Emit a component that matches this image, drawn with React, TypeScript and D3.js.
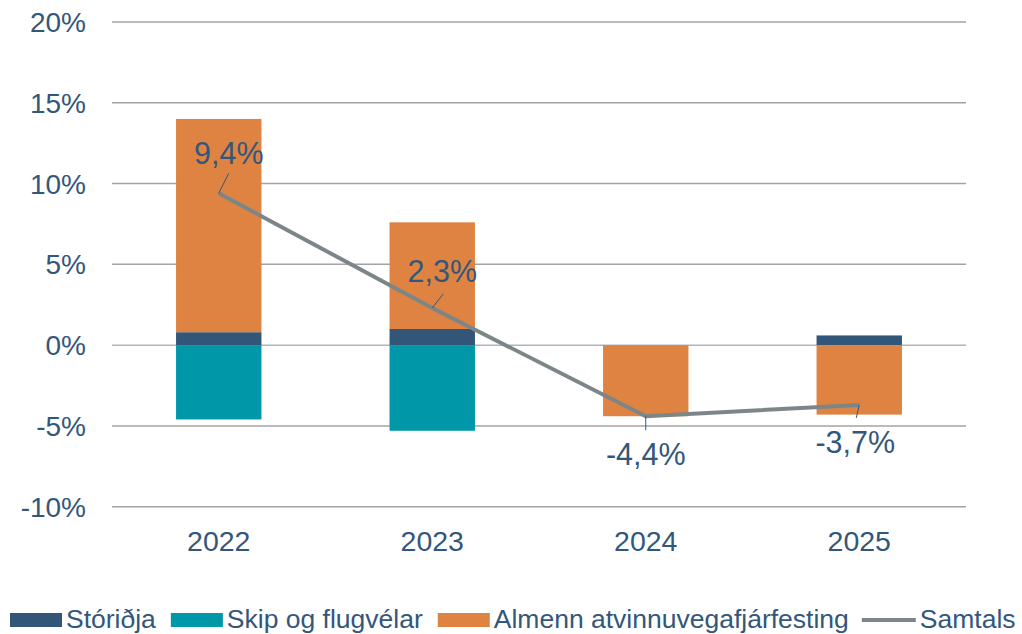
import { useEffect, useRef } from "react"
import * as d3 from "d3"

const categories = ["2022", "2023", "2024", "2025"]
const storidja = [0.8, 1.0, 0, 0.6]
const skipFlug = [-4.6, -5.3, 0, 0]
const almenn = [13.2, 6.6, -4.4, -4.3]
const samtals = [9.4, 2.3, -4.4, -3.7]
const yTicks = [-10, -5, 0, 5, 10, 15, 20]

const seriesNames = ["Stóriðja", "Skip og flugvélar", "Almenn atvinnuvegafjárfesting"]
const seriesColors = ["#325677", "#0097A9", "#DF8342"]
const lineName = "Samtals"
const lineColor = "#7C8688"
const textColor = "#33577B"

// label placement relative to each point (layout only)
const labelOffsets = [
  { lx: 10, ly: -20, tx: 10, ty: -29 },
  { lx: 11, ly: -14, tx: 10, ty: -26 },
  { lx: 0, ly: 14, tx: 0, ty: 49 },
  { lx: -3, ly: 13, tx: -4, ty: 48 }
]

const fmt = (v: number) => d3.format(".1f")(v).replace(".", ",").replace("−", "-") + "%"

const App = () => {
  const svgRef = useRef<SVGSVGElement | null>(null)

  useEffect(() => {
    const width = 1022
    const height = 634
    const left = 112
    const right = 966
    const top = 22
    const bottom = 506.7

    const svg = d3.select(svgRef.current)
      .attr("width", width)
      .attr("height", height)
      .style("font-family", "'Liberation Sans', Arial, sans-serif")

    svg.selectAll("*").remove()

    const x = d3.scaleBand<string>()
      .domain(categories)
      .range([left, right])
      .paddingInner(0.6)
      .paddingOuter(0.3)

    const y = d3.scaleLinear().domain([-10, 20]).range([bottom, top])

    // gridlines
    svg.append("g")
      .selectAll("line")
      .data(yTicks)
      .enter()
      .append("line")
      .attr("x1", left)
      .attr("x2", right)
      .attr("y1", d => y(d))
      .attr("y2", d => y(d))
      .attr("stroke", d => d === 0 ? "#AEB5BF" : "#A3A3A3")
      .attr("stroke-width", 1.5)

    // y tick labels
    svg.append("g")
      .selectAll("text")
      .data(yTicks)
      .enter()
      .append("text")
      .attr("x", 86)
      .attr("y", d => y(d))
      .attr("dy", "0.36em")
      .attr("text-anchor", "end")
      .attr("fill", textColor)
      .style("font-size", "28px")
      .text(d => d + "%")

    // x labels
    svg.append("g")
      .selectAll("text")
      .data(categories)
      .enter()
      .append("text")
      .attr("x", d => (x(d) ?? 0) + x.bandwidth() / 2)
      .attr("y", 551)
      .attr("text-anchor", "middle")
      .attr("fill", textColor)
      .style("font-size", "28.5px")
      .text(d => d)

    // stacked bars
    const rows = categories.map((c, i) => ({
      cat: c,
      s0: storidja[i],
      s1: skipFlug[i],
      s2: almenn[i]
    }))
    const stack = d3.stack<any>()
      .keys(["s0", "s1", "s2"])
      .offset(d3.stackOffsetDiverging)
    const layers = stack(rows)

    layers.forEach((layer, li) => {
      svg.append("g")
        .selectAll("rect")
        .data(layer)
        .enter()
        .append("rect")
        .attr("x", d => x(d.data.cat) ?? 0)
        .attr("width", x.bandwidth())
        .attr("y", d => y(Math.max(d[0], d[1])))
        .attr("height", d => Math.abs(y(d[0]) - y(d[1])))
        .attr("fill", seriesColors[li])
    })

    // total line
    const pts = categories.map((c, i) => ({
      px: (x(c) ?? 0) + x.bandwidth() / 2,
      py: y(samtals[i]),
      v: samtals[i],
      o: labelOffsets[i]
    }))

    const line = d3.line<{ px: number, py: number }>()
      .x(d => d.px)
      .y(d => d.py)

    svg.append("path")
      .datum(pts)
      .attr("d", line)
      .attr("fill", "none")
      .attr("stroke", lineColor)
      .attr("stroke-width", 4)
      .attr("stroke-linejoin", "round")

    // leader lines + labels
    const lab = svg.append("g")
    lab.selectAll("line")
      .data(pts)
      .enter()
      .append("line")
      .attr("x1", d => d.px)
      .attr("y1", d => d.py)
      .attr("x2", d => d.px + d.o.lx)
      .attr("y2", d => d.py + d.o.ly)
      .attr("stroke", textColor)
      .attr("stroke-width", 1)
    lab.selectAll("text")
      .data(pts)
      .enter()
      .append("text")
      .attr("x", d => d.px + d.o.tx)
      .attr("y", d => d.py + d.o.ty)
      .attr("text-anchor", "middle")
      .attr("fill", textColor)
      .style("font-size", "30.5px")
      .text(d => fmt(d.v))

    // legend
    const leg = svg.append("g")
    let cx = 10
    const ly = 620
    seriesNames.forEach((name, i) => {
      leg.append("rect")
        .attr("x", cx)
        .attr("y", ly - 7)
        .attr("width", 52)
        .attr("height", 14)
        .attr("fill", seriesColors[i])
      const t = leg.append("text")
        .attr("x", cx + 56)
        .attr("y", ly + 7.5)
        .attr("fill", textColor)
        .style("font-size", "26.5px")
        .text(name)
      const w = (t.node() as SVGTextElement).getComputedTextLength()
      cx = cx + 56 + w + 15
    })
    leg.append("line")
      .attr("x1", cx - 2)
      .attr("x2", cx + 52)
      .attr("y1", ly)
      .attr("y2", ly)
      .attr("stroke", lineColor)
      .attr("stroke-width", 4)
    leg.append("text")
      .attr("x", cx + 56)
      .attr("y", ly + 7.5)
      .attr("fill", textColor)
      .style("font-size", "26.5px")
      .text(lineName)
  }, [])

  return <svg ref={svgRef} style={{ position: "absolute", left: 0, top: 0 }}></svg>
}

export default App
